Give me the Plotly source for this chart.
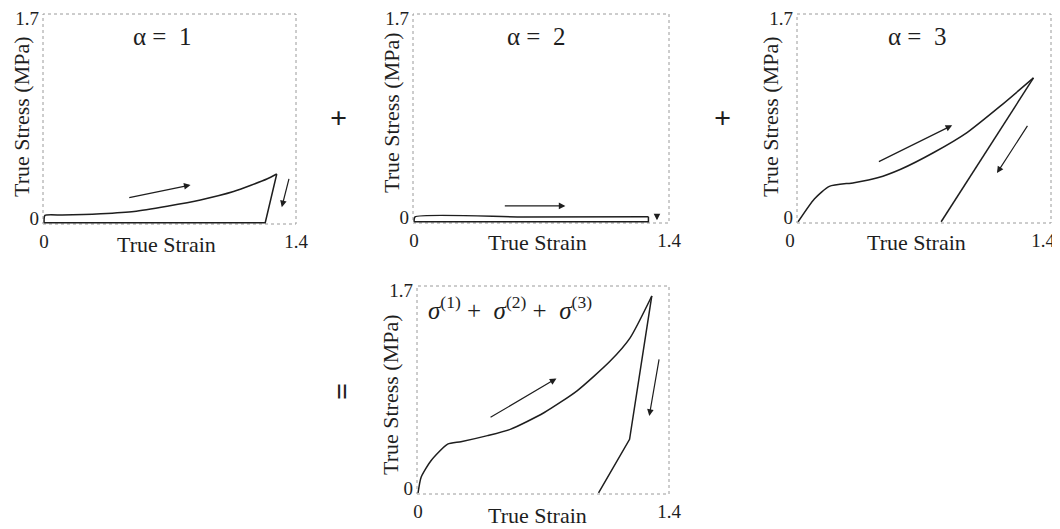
import plotly.graph_objects as go

# ---------------- data ----------------
# alpha = 1 network
a1_load_strain = [0.0, 0.005, 0.10, 0.22, 0.315, 0.50, 0.684, 0.869, 1.053, 1.238, 1.293]
a1_load_stress = [0.0, 0.060, 0.063, 0.067, 0.073, 0.092, 0.135, 0.186, 0.254, 0.356, 0.397]
a1_unload_strain = [1.293, 1.229, 0.005, 0.0]
a1_unload_stress = [0.397, 0.0, 0.0, 0.0]

# alpha = 2 network
a2_load_strain = [0.0, 0.005, 0.60, 1.287]
a2_load_stress = [0.0, 0.040, 0.040, 0.042]
a2_unload_strain = [1.287, 1.287, 0.005, 0.0]
a2_unload_stress = [0.042, 0.0, 0.0, 0.0]

# alpha = 3 network
a3_load_strain = [0.0, 0.09, 0.173, 0.31, 0.44, 0.568, 0.751, 0.935, 1.119, 1.303]
a3_load_stress = [0.0, 0.187, 0.290, 0.320, 0.360, 0.430, 0.567, 0.730, 0.946, 1.177]
a3_unload_strain = [1.303, 0.792]
a3_unload_stress = [1.177, 0.0]

# total response
tot_load_strain = [0.0, 0.017, 0.072, 0.165, 0.239, 0.387, 0.517, 0.702, 0.887, 1.072, 1.183, 1.304]
tot_load_stress = [0.0, 0.128, 0.264, 0.400, 0.420, 0.470, 0.523, 0.658, 0.838, 1.083, 1.274, 1.618]
tot_unload_strain = [1.304, 1.180, 1.007]
tot_unload_stress = [1.618, 0.440, 0.0]

x_tickvals = [0, 1.4]
x_ticktext = ["0", "1.4"]
y_low_tick = [0]
y_low_text = ["0"]
y_high_tick = [1.7]
y_high_text = ["1.7"]
NB = "\u00a0"
panel_titles = [f"α = {NB}1", f"α = {NB}2", f"α = {NB}3",
                f"<i>σ</i><sup>(1)</sup>{NB}+{NB}{NB}<i>σ</i><sup>(2)</sup>{NB}+{NB}{NB}<i>σ</i><sup>(3)</sup>"]
x_title = "True Strain"
y_title = "True Stress (MPa)"

# ---------------- layout helpers ----------------
# the page places the figure 8 px from the top-left corner of the window
OFF = 8
W, H = 1060 - OFF, 529 - OFF
FONT = "Liberation Serif, Times New Roman, serif"
INK = "#1e1e1e"
XR = [-0.006, 1.4]
YR = [-0.01, 1.7]

def fx(px):
    return (px - OFF) / W

def fy(py):
    return 1 - (py - OFF) / H

# panel boxes in window pixels: left, right, top, bottom
boxes = [(43, 296, 14, 224), (413, 669, 14, 223), (797, 1051, 14, 223), (417, 669, 286, 494)]
xlabel_shift = [0, 0, -8, 0]

fig = go.Figure()

series = [
    (a1_load_strain, a1_load_stress, a1_unload_strain, a1_unload_stress),
    (a2_load_strain, a2_load_stress, a2_unload_strain, a2_unload_stress),
    (a3_load_strain, a3_load_stress, a3_unload_strain, a3_unload_stress),
    (tot_load_strain, tot_load_stress, tot_unload_strain, tot_unload_stress),
]

for i, (lx, ly, ux, uy) in enumerate(series):
    xa = "x" if i == 0 else f"x{i+1}"
    ya = "y" if i == 0 else f"y{i+1}"
    fig.add_trace(go.Scatter(x=lx, y=ly, mode="lines", xaxis=xa, yaxis=ya,
                             line=dict(color=INK, width=1.5, shape="spline", smoothing=0.6),
                             showlegend=False, hoverinfo="skip"))
    fig.add_trace(go.Scatter(x=ux, y=uy, mode="lines", xaxis=xa, yaxis=ya,
                             line=dict(color=INK, width=1.5),
                             showlegend=False, hoverinfo="skip"))
    # empty trace so the overlay axis carrying the top tick label is drawn
    fig.add_trace(go.Scatter(x=[], y=[], mode="lines", xaxis=xa, yaxis=f"y{i+5}",
                             showlegend=False, hoverinfo="skip"))

layout = dict(template="none", width=W, height=H, margin=dict(l=0, r=0, t=0, b=0, pad=0),
              autosize=False, paper_bgcolor="white", plot_bgcolor="white", showlegend=False)

tickfont = dict(family=FONT, size=19, color=INK)
common_axis = dict(showgrid=False, zeroline=False, showline=False, ticks="",
                   automargin=False, ticklabeloverflow="allow", fixedrange=True, tickfont=tickfont)

shapes = []
annotations = []
for i, (l, r, t, b) in enumerate(boxes):
    sx = "" if i == 0 else str(i + 1)
    layout[f"xaxis{sx}"] = dict(domain=[fx(l), min(fx(r), 1.0)], range=XR, anchor=f"y{sx}",
                                ticklabelshift=xlabel_shift[i],
                                tickvals=x_tickvals, ticktext=x_ticktext,
                                ticklabelstandoff=4, **common_axis)
    layout[f"yaxis{sx}"] = dict(domain=[fy(b), fy(t)], range=YR, anchor=f"x{sx}",
                                tickvals=y_low_tick, ticktext=y_low_text,
                                ticklabelshift=-4, ticklabelstandoff=3, **common_axis)
    layout[f"yaxis{i+5}"] = dict(overlaying=f"y{sx}", range=YR, anchor=f"x{sx}", side="left",
                                 tickvals=y_high_tick, ticktext=y_high_text,
                                 ticklabelshift=4, ticklabelstandoff=3, **common_axis)
    shapes.append(dict(type="rect", xref=f"x{sx} domain", yref=f"y{sx} domain",
                       x0=0, x1=1, y0=0, y1=1,
                       line=dict(color="#9a9a9a", width=1, dash="dot"), layer="below"))

# axis titles
xt_pos = [(166, 244), (537, 242), (916, 242), (537, 515)]
yt_pos = [(21, 117), (391, 113), (770, 117), (390, 395)]
for (x, y) in xt_pos:
    annotations.append(dict(text=x_title, x=fx(x), y=fy(y), xref="paper", yref="paper",
                            showarrow=False, xanchor="center", yanchor="middle",
                            font=dict(family=FONT, size=22, color=INK)))
for (x, y) in yt_pos:
    annotations.append(dict(text=y_title, x=fx(x), y=fy(y), xref="paper", yref="paper",
                            showarrow=False, xanchor="center", yanchor="middle", textangle=-90,
                            font=dict(family=FONT, size=22, color=INK)))

# panel titles
title_pos = [(162, 37, "center"), (536, 37, "center"), (917, 36, "center"), (426, 308, "left")]
for txt, (x, y, anc) in zip(panel_titles, title_pos):
    annotations.append(dict(text=txt, x=fx(x), y=fy(y), xref="paper", yref="paper",
                            showarrow=False, xanchor=anc, yanchor="middle",
                            font=dict(family=FONT, size=25, color=INK)))

# operators
for (x, y, txt, ang) in [(338, 118, "+", 0), (722, 118, "+", 0), (341, 392, "=", -90)]:
    annotations.append(dict(text=f"<b>{txt}</b>", x=fx(x), y=fy(y), xref="paper", yref="paper",
                            showarrow=False, xanchor="center", yanchor="middle", textangle=ang,
                            font=dict(family=FONT, size=30, color=INK)))

# direction arrows (tail -> head, in data units of each panel)
arrows = [
    ("", 0.465, 0.202, 0.814, 0.308),
    ("", 1.363, 0.370, 1.321, 0.127),
    ("2", 0.490, 0.130, 0.831, 0.130),
    ("2", 1.334, 0.060, 1.334, 0.012),
    ("3", 0.439, 0.486, 0.853, 0.789),
    ("3", 1.275, 0.797, 1.101, 0.399),
    ("4", 0.396, 0.613, 0.772, 0.940),
    ("4", 1.346, 1.109, 1.290, 0.632),
]
for (sx, tx, ty, hx, hy) in arrows:
    annotations.append(dict(text="", x=hx, y=hy, ax=tx, ay=ty,
                            xref=f"x{sx}", yref=f"y{sx}", axref=f"x{sx}", ayref=f"y{sx}",
                            showarrow=True, arrowhead=2, arrowsize=1.1, arrowwidth=1.2,
                            arrowcolor=INK, standoff=0, startstandoff=0))

layout["shapes"] = shapes
layout["annotations"] = annotations
fig.update_layout(**layout)

fig.write_html("out.html")
